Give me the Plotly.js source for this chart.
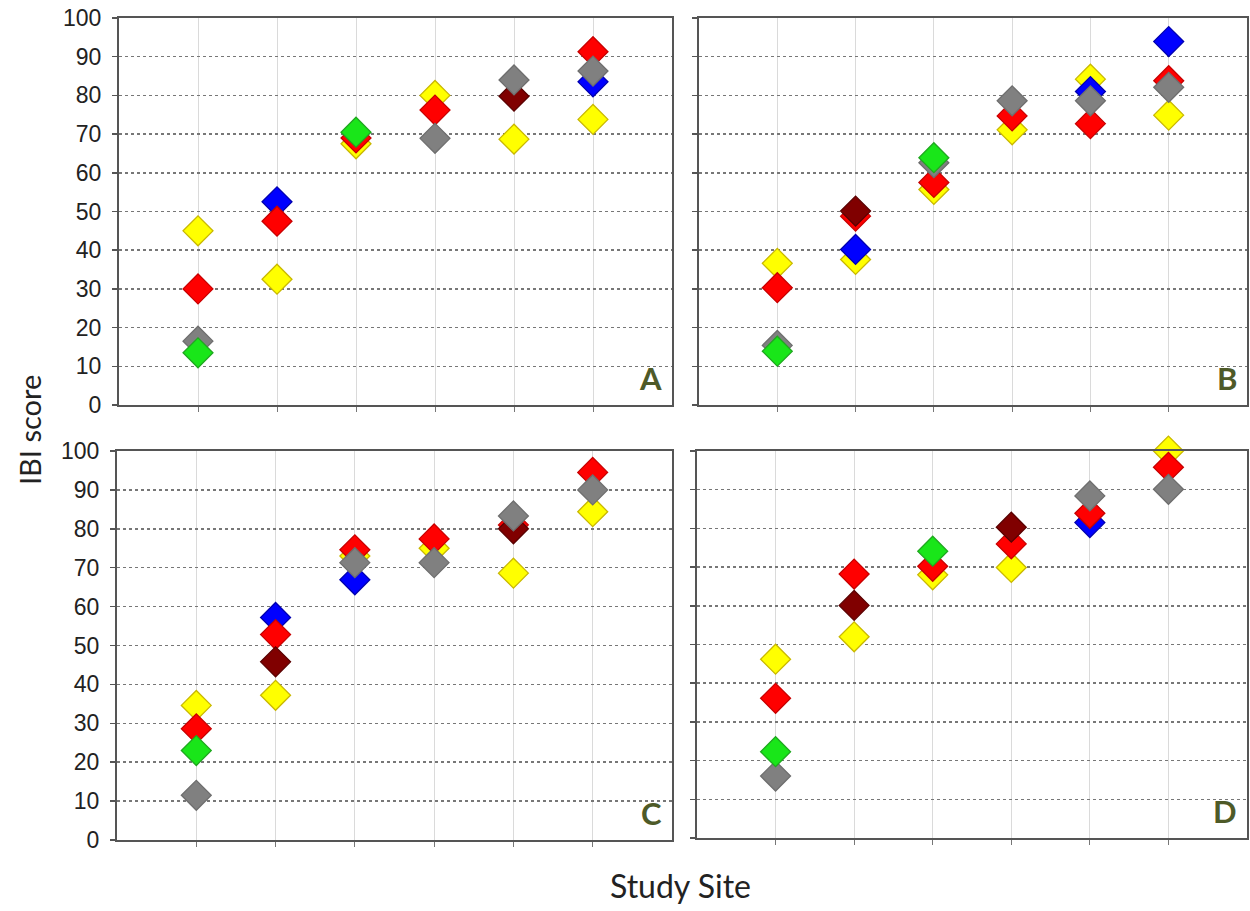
<!DOCTYPE html>
<html>
<head>
<meta charset="utf-8">
<script src="https://cdn.plot.ly/plotly-3.0.1.min.js"></script>
<style>html,body{margin:0;padding:0;background:#fff;}#chart{width:1250px;height:911px;}</style>
</head>
<body>
<div id="chart"></div>
<script>
// Study sites (categories)
const sites = [1, 2, 3, 4, 5, 6];
const yTicks = [0, 10, 20, 30, 40, 50, 60, 70, 80, 90, 100];
const panelLabels = ["A", "B", "C", "D"];

// Panel A
const aYellow  = [45.0, 32.5, 67.5, 80.0, 68.7, 73.8];
const aRed     = [30.0, 47.5, 69.0, 76.2, null, 91.3];
const aDarkred = [null, null, null, null, 79.8, null];
const aBlue    = [null, 52.5, null, null, null, 83.5];
const aGreen   = [13.5, null, 70.5, null, null, null];
const aGray    = [16.5, null, null, 68.9, 84.0, 86.3];

// Panel B
const bYellow  = [36.6, 37.6, 55.7, 71.1, 84.2, 74.9];
const bRed     = [30.3, 48.8, 57.5, 74.7, 72.7, 83.8];
const bDarkred = [null, 50.1, null, null, null, null];
const bBlue    = [null, 40.2, null, null, 81.0, 93.9];
const bGreen   = [13.9, null, 63.9, null, null, null];
const bGray    = [15.4, null, 62.6, 78.6, 78.6, 82.1];

// Panel C
const cYellow  = [34.6, 37.2, 73.0, 75.0, 68.6, 84.4];
const cRed     = [28.6, 52.8, 74.6, 77.4, 81.0, 94.5];
const cDarkred = [null, 45.8, null, null, 80.0, null];
const cBlue    = [null, 57.2, 66.9, null, null, null];
const cGreen   = [23.0, null, null, null, null, null];
const cGray    = [11.5, null, 71.3, 71.3, 83.3, 90.0];

// Panel D
const dYellow  = [46.2, 52.0, 68.0, 69.9, null, 100.0];
const dRed     = [36.1, 68.2, 70.2, 76.0, 83.9, 95.8];
const dDarkred = [null, 60.1, null, 80.3, null, null];
const dBlue    = [null, null, null, null, 81.5, null];
const dGreen   = [22.3, null, 74.1, null, null, null];
const dGray    = [16.0, null, null, null, 88.4, 90.1];

const styles = {
  yellow:  {fill: "#FFFF00", line: "#C9B800"},
  blue:    {fill: "#0000FF", line: "#0000B0"},
  red:     {fill: "#FF0000", line: "#C80000"},
  darkred: {fill: "#800000", line: "#5A0000"},
  green:   {fill: "#19E619", line: "#1FA81F"},
  gray:    {fill: "#808080", line: "#6E6E6E"}
};

const panels = [
  {xa: "x",  ya: "y",  data: {yellow: aYellow, blue: aBlue, red: aRed, darkred: aDarkred, green: aGreen, gray: aGray}},
  {xa: "x2", ya: "y2", data: {yellow: bYellow, blue: bBlue, red: bRed, darkred: bDarkred, green: bGreen, gray: bGray}},
  {xa: "x3", ya: "y3", data: {yellow: cYellow, blue: cBlue, red: cRed, darkred: cDarkred, green: cGreen, gray: cGray}},
  {xa: "x4", ya: "y4", data: {yellow: dYellow, blue: dBlue, red: dRed, darkred: dDarkred, green: dGreen, gray: dGray}}
];

const order = ["yellow", "blue", "red", "darkred", "gray", "green"];
const traces = [];
panels.forEach(p => {
  order.forEach(k => {
    traces.push({
      type: "scatter", mode: "markers",
      x: sites, y: p.data[k],
      xaxis: p.xa, yaxis: p.ya,
      cliponaxis: false,
      showlegend: false,
      hoverinfo: "y",
      marker: {symbol: "diamond", size: 23, color: styles[k].fill, line: {color: styles[k].line, width: 1.3}}
    });
  });
});

const W = 1250, H = 911;
const fx = px => px / W;
const fy = px => 1 - px / H;

function xAxis(l, r, anchor) {
  return {
    domain: [fx(l), fx(r)], range: [0, 7], anchor: anchor,
    tickvals: sites, showticklabels: false, ticks: "outside", ticklen: 5, tickcolor: "#777", tickwidth: 1,
    showgrid: true, gridcolor: "#DADADA", gridwidth: 1,
    showline: true, linecolor: "#555", linewidth: 2, mirror: true, zeroline: false, fixedrange: true
  };
}
function yAxis(top, bottom, anchor, labels) {
  return {
    domain: [fy(bottom), fy(top)], range: [0, 100], anchor: anchor,
    tickvals: yTicks, showticklabels: labels, ticks: "outside", ticklen: 5, tickcolor: "#555", tickwidth: 1.5,
    ticklabelstandoff: 6,
    tickfont: {family: "Liberation Sans, Arial, sans-serif", size: 23, color: "#222"},
    showgrid: true, gridcolor: "#777", gridwidth: 1.5, griddash: "dot",
    showline: true, linecolor: "#555", linewidth: 2, mirror: true, zeroline: false, fixedrange: true
  };
}

const letterFont = {family: "Lato, Open Sans, sans-serif", size: 31, color: "#4E5A28", weight: 700};
const annotations = [
  ["x", "y"], ["x2", "y2"], ["x3", "y3"], ["x4", "y4"]
].map((ax, i) => ({
  xref: ax[0] + " domain", yref: ax[1] + " domain",
  x: 0.985, y: 0.015, xanchor: "right", yanchor: "bottom",
  text: "<b>" + panelLabels[i] + "</b>", showarrow: false, font: letterFont
}));
annotations.push({
  xref: "paper", yref: "paper", x: fx(30), y: fy(430), xanchor: "center", yanchor: "middle",
  text: "IBI score", textangle: -90, showarrow: false,
  font: {family: "Lato, Open Sans, sans-serif", size: 29, color: "#222"}
});
annotations.push({
  xref: "paper", yref: "paper", x: fx(681), y: fy(885), xanchor: "center", yanchor: "middle",
  text: "Study Site", showarrow: false,
  font: {family: "Lato, Open Sans, sans-serif", size: 32, color: "#222"}
});

const layout = {
  width: W, height: H,
  margin: {l: 0, r: 0, t: 0, b: 0},
  paper_bgcolor: "#fff", plot_bgcolor: "#fff",
  showlegend: false,
  xaxis:  xAxis(119, 672, "y"),
  yaxis:  yAxis(18, 405, "x", true),
  xaxis2: xAxis(699, 1247, "y2"),
  yaxis2: yAxis(18, 405, "x2", false),
  xaxis3: xAxis(117, 672, "y3"),
  yaxis3: yAxis(451, 840, "x3", true),
  xaxis4: xAxis(697, 1247, "y4"),
  yaxis4: yAxis(451, 838, "x4", false),
  annotations: annotations
};

Plotly.newPlot("chart", traces, layout, {displayModeBar: false, staticPlot: true});
</script>
</body>
</html>
